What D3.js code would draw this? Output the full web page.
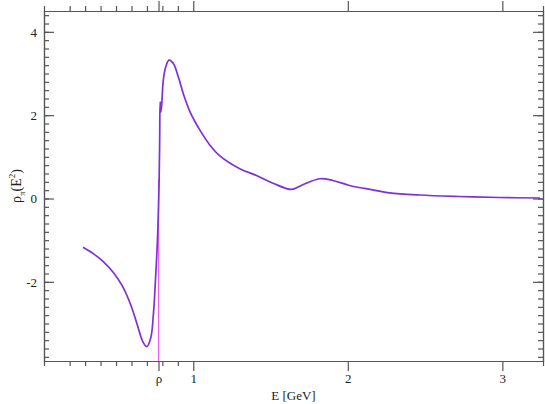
<!DOCTYPE html>
<html>
<head>
<meta charset="utf-8">
<script src="https://cdn.jsdelivr.net/npm/d3@7"></script>
<style>
  body { margin: 0; background: #fff; }
  .axis path, .axis line { stroke: #555; stroke-width: 1.2; }
  .axis text { font: 13px "Liberation Serif", serif; fill: #222; }
</style>
</head>
<body>
<svg width="545" height="404"></svg>
<script>
// spectral function rho_pi(E^2)
var energy = [0.2865, 0.355, 0.419, 0.484, 0.538, 0.592, 0.635, 0.674, 0.699, 0.725, 0.742, 0.755, 0.768,
    0.779, 0.7825, 0.7855, 0.7905, 0.7955, 0.806, 0.822, 0.843, 0.871, 0.903, 0.935, 0.979, 1.043, 1.108,
    1.168, 1.301, 1.409, 1.516, 1.635, 1.699, 1.817, 1.903, 2.011, 2.161, 2.269, 2.463, 2.721, 2.979, 3.243];
var rhoPi = [-1.17, -1.33, -1.52, -1.78, -2.08, -2.52, -3.0, -3.44, -3.555, -3.34, -2.77, -1.97, -1.01,
    0.43, 1.40, 2.32, 2.08, 2.24, 2.84, 3.16, 3.32, 3.24, 2.92, 2.52, 2.08, 1.64, 1.28,
    1.035, 0.715, 0.554, 0.368, 0.217, 0.313, 0.474, 0.433, 0.313, 0.209, 0.137, 0.084, 0.048, 0.024, 0.012];

var rhoMass = 0.775;
var rhoLine = [-3.9, 0.45];

var xMajor = [rhoMass, 1, 2, 3];
var xMajorLabels = ["\u03c1", "1", "2", "3"];
var xMinor = [0.2, 0.3, 0.4, 0.5, 0.6, 0.7, 0.8, 0.9];
var yMajor = [-2, 0, 2, 4];
var yMinor = d3.range(-3.8, 4.5, 0.2).map(function(v) { return Math.round(v * 10) / 10; });

var svg = d3.select("svg"),
    margin = {top: 11, right: 2, bottom: 43, left: 44},
    width = svg.attr("width") - margin.left - margin.right,
    height = svg.attr("height") - margin.top - margin.bottom,
    g = svg.append("g").attr("transform", "translate(" + margin.left + "," + margin.top + ")");

var x = d3.scaleLinear().domain([0.034, 3.263]).range([0, width]),
    y = d3.scaleLinear().domain([-3.9, 4.5]).range([height, 0]);

var data = energy.map(function(e, i) { return {e: e, v: rhoPi[i]}; });

var line = d3.line()
    .curve(d3.curveCatmullRom.alpha(0.5))
    .x(function(d) { return x(d.e); })
    .y(function(d) { return y(d.v); });

// minor ticks
g.append("g").attr("class", "axis")
    .attr("transform", "translate(0," + height + ")")
    .call(d3.axisBottom(x).tickValues(xMinor).tickSize(5).tickFormat(""));
g.append("g").attr("class", "axis")
    .call(d3.axisTop(x).tickValues(xMinor).tickSize(5).tickFormat(""));
g.append("g").attr("class", "axis")
    .call(d3.axisLeft(y).tickValues(yMinor).tickSize(-5).tickFormat(""));
g.append("g").attr("class", "axis")
    .attr("transform", "translate(" + width + ",0)")
    .call(d3.axisRight(y).tickValues(yMinor).tickSize(-5).tickFormat(""));

// major ticks + frame
g.append("g").attr("class", "axis x")
    .attr("transform", "translate(0," + height + ")")
    .call(d3.axisBottom(x).tickValues(xMajor).tickSize(10).tickSizeOuter(0).tickPadding(3)
        .tickFormat(function(d, i) { return xMajorLabels[i]; }));
g.append("g").attr("class", "axis")
    .call(d3.axisTop(x).tickValues(xMajor).tickSize(10).tickSizeOuter(0).tickFormat(""));
g.append("g").attr("class", "axis y")
    .call(d3.axisLeft(y).tickValues(yMajor).tickSize(-10).tickSizeOuter(0).tickPadding(7)
        .tickFormat(function(d) { return String(d); }));
g.append("g").attr("class", "axis")
    .attr("transform", "translate(" + width + ",0)")
    .call(d3.axisRight(y).tickValues(yMajor).tickSize(-10).tickSizeOuter(0).tickFormat(""));

g.selectAll(".axis .domain").attr("stroke", "#555");

// axis titles
svg.append("text")
    .attr("x", margin.left + width / 2)
    .attr("y", 400)
    .attr("text-anchor", "middle")
    .style("font", "13px 'Liberation Serif', serif")
    .attr("fill", "#222")
    .text("E [GeV]");

var ylab = svg.append("text")
    .attr("transform", "translate(21,186) rotate(-90)")
    .attr("text-anchor", "middle")
    .style("font", "14px 'Liberation Serif', serif")
    .attr("fill", "#222");
ylab.append("tspan").text("\u03c1");
ylab.append("tspan").attr("dy", 4).style("font-size", "9px").text("\u03c0");
ylab.append("tspan").attr("dy", -4).text("(E");
ylab.append("tspan").attr("dy", -6).style("font-size", "9px").text("2");
ylab.append("tspan").attr("dy", 6).text(")");

// rho marker line
g.append("line")
    .attr("x1", x(rhoMass)).attr("x2", x(rhoMass))
    .attr("y1", y(rhoLine[0])).attr("y2", y(rhoLine[1]))
    .attr("stroke", "#f060f0")
    .attr("stroke-width", 1.2);

g.append("path")
    .datum(data)
    .attr("fill", "none")
    .attr("stroke", "#7f30d6")
    .attr("stroke-width", 1.7)
    .attr("d", line);
</script>
</body>
</html>
